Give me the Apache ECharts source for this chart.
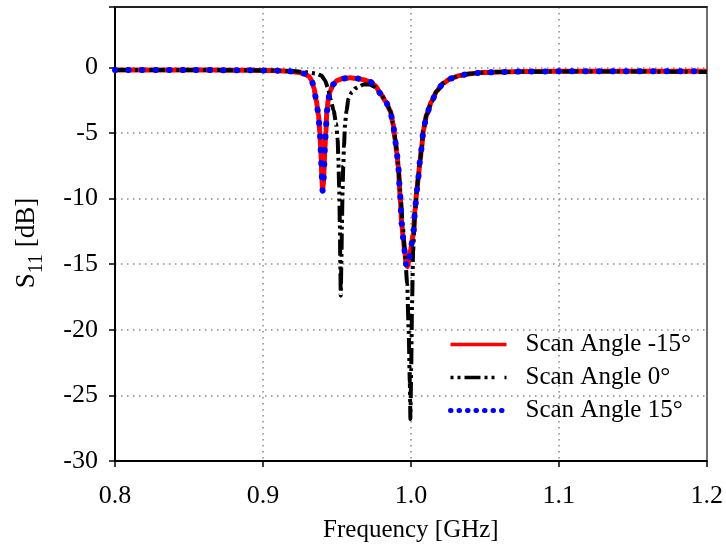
<!DOCTYPE html>
<html>
<head>
<meta charset="utf-8">
<script src="https://cdn.jsdelivr.net/npm/echarts@6/dist/echarts.min.js"></script>
<style>html,body{margin:0;padding:0;background:#fff}#c{width:726px;height:553px}</style>
</head>
<body>
<div id="c"></div>
<script>
// Frequency (GHz) and S11 (dB) for scan angle -15 deg
const freqNeg15 = [0.800,0.850,0.880,0.900,0.910,0.918,0.924,0.928,0.931,0.933,0.9345,0.936,0.9375,0.9385,0.9392,0.9398,0.9403,0.9408,0.9413,0.9418,0.9425,0.9432,0.9442,0.9455,0.9475,0.950,0.954,0.959,0.964,0.968,0.9725,0.976,0.9795,0.983,0.986,0.988,0.9893,0.9905,0.9915,0.9927,0.9938,0.995,0.996,0.9968,0.9976,0.9986,0.9996,1.0017,1.0028,1.004,1.005,1.0062,1.0073,1.0084,1.0107,1.014,1.0175,1.022,1.027,1.033,1.040,1.048,1.060,1.075,1.100,1.150,1.200];
const s11Neg15 = [-0.20,-0.20,-0.22,-0.23,-0.25,-0.30,-0.38,-0.48,-0.68,-1.0,-1.6,-2.5,-3.6,-5.0,-6.5,-8.3,-9.4,-9.0,-7.8,-6.3,-4.9,-3.4,-2.4,-1.8,-1.3,-1.0,-0.85,-0.8,-0.85,-0.95,-1.1,-1.4,-2.0,-2.6,-3.3,-4.3,-5.5,-6.5,-7.6,-9.7,-11.9,-13.2,-14.2,-15.0,-15.2,-14.8,-14.0,-12.7,-10.9,-9.4,-8.4,-7.1,-6.1,-4.8,-3.6,-2.6,-1.8,-1.2,-0.85,-0.62,-0.48,-0.40,-0.35,-0.32,-0.30,-0.30,-0.30];

// Scan angle 0 deg
const freqZero = [0.800,0.850,0.900,0.920,0.930,0.936,0.9395,0.942,0.944,0.9456,0.9478,0.9495,0.9505,0.951,0.9515,0.952,0.9523,0.9526,0.953,0.9534,0.9538,0.9543,0.9548,0.9555,0.9565,0.9578,0.960,0.9625,0.9645,0.968,0.972,0.976,0.9795,0.983,0.986,0.988,0.9895,0.9915,0.993,0.9945,0.996,0.9975,0.9985,0.9993,0.9997,1.0002,1.0008,1.0015,1.0028,1.004,1.005,1.0062,1.0073,1.0084,1.0107,1.014,1.0175,1.022,1.027,1.033,1.040,1.048,1.060,1.100,1.150,1.200];
const s11Zero = [-0.20,-0.20,-0.23,-0.28,-0.38,-0.48,-0.62,-1.0,-1.6,-2.4,-3.3,-4.3,-5.5,-7.0,-9.0,-12.0,-15.0,-17.4,-15.0,-12.0,-9.5,-7.5,-6.0,-4.3,-3.3,-2.4,-1.9,-1.6,-1.5,-1.3,-1.3,-1.5,-2.0,-2.6,-3.3,-4.3,-5.5,-7.6,-9.8,-12.0,-14.2,-16.5,-20.0,-24.0,-26.8,-23.0,-18.0,-14.0,-11.0,-9.4,-8.4,-7.1,-6.1,-4.8,-3.6,-2.6,-1.8,-1.2,-0.85,-0.62,-0.48,-0.40,-0.35,-0.32,-0.32,-0.35];

// Scan angle 15 deg
const freqPos15 = [0.800,0.850,0.880,0.900,0.910,0.918,0.924,0.928,0.931,0.933,0.9345,0.936,0.9375,0.9385,0.9392,0.9398,0.9403,0.9408,0.9413,0.9418,0.9425,0.9432,0.9442,0.9455,0.9475,0.950,0.954,0.959,0.964,0.968,0.9725,0.976,0.9795,0.983,0.986,0.988,0.9893,0.9905,0.9915,0.9927,0.9938,0.995,0.996,0.9968,0.9976,0.9986,0.9996,1.0017,1.0028,1.004,1.005,1.0062,1.0073,1.0084,1.0107,1.014,1.0175,1.022,1.027,1.033,1.040,1.048,1.060,1.075,1.100,1.150,1.200];
const s11Pos15 = [-0.20,-0.20,-0.22,-0.23,-0.25,-0.30,-0.38,-0.48,-0.68,-1.0,-1.6,-2.5,-3.6,-5.0,-6.5,-8.3,-9.4,-9.0,-7.8,-6.3,-4.9,-3.4,-2.4,-1.8,-1.3,-1.0,-0.85,-0.8,-0.85,-0.95,-1.1,-1.4,-2.0,-2.6,-3.3,-4.3,-5.5,-6.5,-7.6,-9.7,-11.9,-13.2,-14.2,-15.0,-15.2,-14.8,-14.0,-12.7,-10.9,-9.4,-8.4,-7.1,-6.1,-4.8,-3.6,-2.6,-1.8,-1.2,-0.85,-0.62,-0.48,-0.40,-0.35,-0.32,-0.30,-0.30,-0.30];

const seriesNames = ['Scan Angle -15°', 'Scan Angle 0°', 'Scan Angle 15°'];
const xTicks = [0.8, 0.9, 1.0, 1.1, 1.2];
const yTicks = [0, -5, -10, -15, -20, -25, -30];

const pair = (xs, ys) => xs.map((x, i) => [x, ys[i]]);
const FONT = 'Liberation Serif';

const chart = echarts.init(document.getElementById('c'), null, {renderer: 'canvas'});
const gridSplit = {show: true, lineStyle: {color: '#8a8a8a', width: 1.5, type: [1.5, 4.5]}};

chart.setOption({
  animation: false,
  backgroundColor: '#fff',
  grid: {left: 115, top: 7, width: 592, height: 454, containLabel: false},
  xAxis: [{
    type: 'value', min: 0.8, max: 1.2, interval: 0.1,
    name: 'Frequency [GHz]', nameLocation: 'middle', nameGap: 57,
    nameTextStyle: {fontFamily: FONT, fontSize: 25, color: '#000'},
    axisLine: {show: true, onZero: false, lineStyle: {color: '#000', width: 2}},
    axisTick: {show: true, inside: false, length: 6, lineStyle: {color: '#000', width: 1.5}},
    axisLabel: {fontFamily: FONT, fontSize: 26, color: '#000', margin: 22,
      formatter: v => xTicks.some(t => Math.abs(t - v) < 1e-6) ? v.toFixed(1) : ''},
    splitLine: gridSplit
  }, {
    type: 'value', min: 0.8, max: 1.2, position: 'top',
    axisLine: {show: true, onZero: false, lineStyle: {color: '#222', width: 2}},
    axisTick: {show: false}, axisLabel: {show: false}, splitLine: {show: false}
  }],
  yAxis: [{
    type: 'value', min: -30, max: 4.6, interval: 5,
    name: '{m|S}{sub|11}{m| [dB]}', nameLocation: 'middle', nameGap: 68,
    nameTextStyle: {fontFamily: FONT, color: '#000', padding: [0, 18, 0, 0],
      rich: {
        m: {fontFamily: FONT, fontSize: 27, color: '#000', lineHeight: 40},
        sub: {fontFamily: FONT, fontSize: 20, color: '#000', lineHeight: 24, verticalAlign: 'bottom'}
      }},
    axisLine: {show: true, onZero: false, lineStyle: {color: '#000', width: 2}},
    axisTick: {show: true, inside: false, length: 6, lineStyle: {color: '#000', width: 1.5}},
    axisLabel: {fontFamily: FONT, fontSize: 26, color: '#000', margin: 17,
      formatter: v => yTicks.some(t => Math.abs(t - v) < 1e-6) ? String(Math.round(v)) : ''},
    splitLine: gridSplit
  }, {
    type: 'value', min: -30, max: 4.6, position: 'right',
    axisLine: {show: true, onZero: false, lineStyle: {color: '#6e6e6e', width: 2}},
    axisTick: {show: false}, axisLabel: {show: false}, splitLine: {show: false}
  }],
  legend: {
    orient: 'vertical', left: 443, top: 326, itemWidth: 56, itemHeight: 14, itemGap: 6,
    itemStyle: {opacity: 0},
    textStyle: {fontFamily: FONT, fontSize: 25, color: '#000', lineHeight: 27, padding: [0, 0, 0, 14]},
    data: [
      {name: seriesNames[0], lineStyle: {width: 3.5, color: '#ff0000'}},
      {name: seriesNames[1], lineStyle: {width: 3.5, color: '#000', type: [3, 4, 3, 4, 16, 4, 3, 4, 3, 10]}},
      {name: seriesNames[2], lineStyle: {type: [0.5, 8], width: 5, cap: 'round', color: '#0000ff'}}
    ]
  },
  series: [
    {
      name: seriesNames[0], type: 'line', data: pair(freqNeg15, s11Neg15),
      showSymbol: false, symbol: 'none', smooth: 0.2, smoothMonotone: 'x', z: 2,
      lineStyle: {color: '#ff0000', width: 5}, itemStyle: {color: '#ff0000'}
    },
    {
      name: seriesNames[1], type: 'line', data: pair(freqZero, s11Zero),
      showSymbol: false, symbol: 'none', smooth: 0.2, smoothMonotone: 'x', z: 3,
      lineStyle: {color: '#000000', width: 4, type: [16, 4, 3, 4, 3, 4]}, itemStyle: {color: '#000'}
    },
    {
      name: seriesNames[2], type: 'line', data: pair(freqPos15, s11Pos15),
      showSymbol: false, symbol: 'none', smooth: 0.2, smoothMonotone: 'x', z: 4,
      lineStyle: {color: '#0000ff', width: 6, type: [0.5, 13], cap: 'round'}, itemStyle: {color: '#0000ff'}
    }
  ]
});
</script>
</body>
</html>
